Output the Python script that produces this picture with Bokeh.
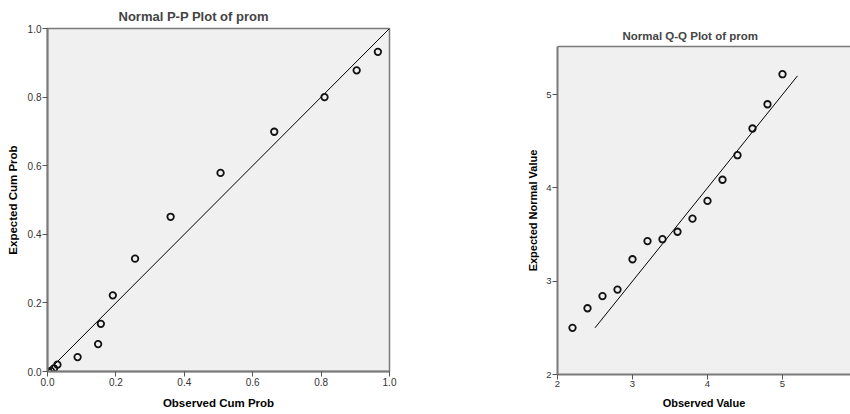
from bokeh.plotting import figure
from bokeh.layouts import row, column
from bokeh.models import FixedTicker, LinearAxis, Range1d, NumeralTickFormatter, Title
from bokeh.embed import file_html
from bokeh.resources import INLINE

# ---- P-P plot data ----
pp_observed = [0.010, 0.019, 0.029, 0.088, 0.148, 0.156, 0.191, 0.256, 0.360,
               0.506, 0.663, 0.810, 0.904, 0.966]
pp_expected = [0.002, 0.009, 0.020, 0.042, 0.080, 0.139, 0.222, 0.329, 0.451,
               0.579, 0.699, 0.800, 0.878, 0.932]
pp_line = [0.0, 1.0]
pp_ticks = [0.0, 0.2, 0.4, 0.6, 0.8, 1.0]

# ---- Q-Q plot data ----
qq_observed = [2.2, 2.4, 2.6, 2.8, 3.0, 3.2, 3.4, 3.6, 3.8, 4.0, 4.2, 4.4, 4.6, 4.8, 5.0]
qq_expected = [2.50, 2.71, 2.84, 2.91, 3.235, 3.43, 3.45, 3.53, 3.67, 3.86, 4.087,
               4.35, 4.636, 4.896, 5.218]
qq_line = [2.5, 5.2]
qq_ticks = [2, 3, 4, 5]

FONT = "Liberation Sans"
AXIS_COL = "#7a7a7a"
BG = "#f0f0f0"


def style_axis(ax, label_size, lab_size, standoff):
    ax.axis_line_color = AXIS_COL
    ax.axis_line_width = 2
    ax.major_tick_line_color = "#555555"
    ax.major_tick_in = 0
    ax.major_tick_out = 5
    ax.minor_tick_line_color = None
    ax.major_label_text_font = FONT
    ax.major_label_text_font_size = lab_size
    ax.major_label_text_color = "#333333"
    ax.major_label_standoff = 1
    ax.axis_label_text_font = FONT
    ax.axis_label_text_font_size = label_size
    ax.axis_label_text_font_style = "bold"
    ax.axis_label_text_color = "#000000"
    ax.axis_label_standoff = standoff


p1 = figure(width=420, height=414, x_range=Range1d(0, 1), y_range=Range1d(0, 1),
            output_backend="svg", toolbar_location=None,
            min_border_left=47, min_border_right=31, min_border_top=28, min_border_bottom=43,
            x_axis_label="Observed Cum Prob", y_axis_label="Expected Cum Prob")
p1.title = Title(text="Normal P-P Plot of prom", align="left", offset=71,
                 text_font=FONT, text_font_size="13px", text_font_style="bold")
p1.background_fill_color = BG
p1.outline_line_color = AXIS_COL
p1.outline_line_width = 1.5
p1.grid.visible = False
for ax in (p1.xaxis[0], p1.yaxis[0]):
    ax.ticker = FixedTicker(ticks=pp_ticks)
    ax.formatter = NumeralTickFormatter(format="0.0")
style_axis(p1.xaxis[0], "11.5px", "10px", 8)
style_axis(p1.yaxis[0], "11.5px", "10px", 6)
p1.line(pp_line, pp_line, line_color="#000000", line_width=1)
p1.scatter(pp_observed, pp_expected, marker="circle", size=6.5, fill_color=None,
           line_color="#111111", line_width=1.8)

p2 = figure(width=430, height=414, x_range=Range1d(2, 5.907), y_range=Range1d(2, 5.515),
            output_backend="svg", toolbar_location=None,
            min_border_left=137, min_border_right=0, min_border_top=46, min_border_bottom=40,
            x_axis_label="Observed Value", y_axis_label="Expected Normal Value")
p2.title = Title(text="Normal Q-Q Plot of prom", align="left", offset=65,
                 text_font=FONT, text_font_size="11.5px", text_font_style="bold")
p2.background_fill_color = BG
p2.outline_line_color = None
p2.grid.visible = False
for ax in (p2.xaxis[0], p2.yaxis[0]):
    ax.ticker = FixedTicker(ticks=qq_ticks)
style_axis(p2.xaxis[0], "11px", "9.5px", 7)
style_axis(p2.yaxis[0], "11px", "9.5px", 4)
top_axis = LinearAxis(ticker=FixedTicker(ticks=[]), axis_line_color=AXIS_COL,
                      axis_line_width=1.5, major_tick_in=0, major_tick_out=0,
                      minor_tick_line_color=None, major_label_text_font_size="0px",
                      major_label_standoff=0)
p2.add_layout(top_axis, "above")
p2.line(qq_line, qq_line, line_color="#000000", line_width=1)
p2.scatter(qq_observed, qq_expected, marker="circle", size=6.5, fill_color=None,
           line_color="#111111", line_width=1.8)

layout = row(column(p1), column(p2))
open("out.html", "w").write(file_html(layout, INLINE))
